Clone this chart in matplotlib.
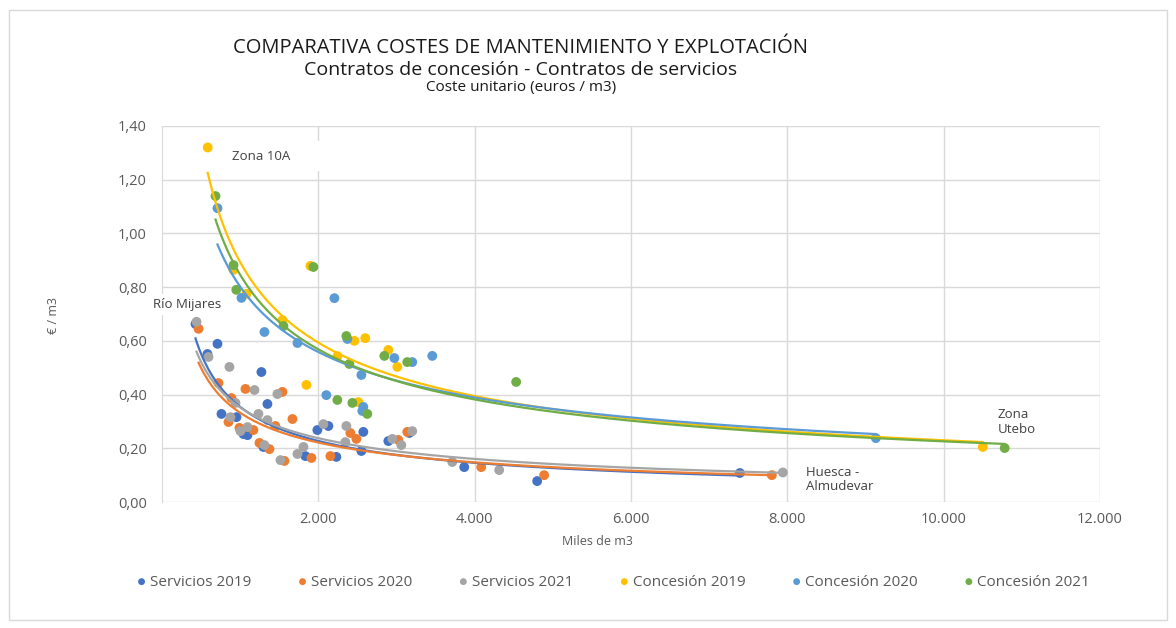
"""Comparativa costes de mantenimiento y explotacion: scatter + power trendlines."""
import matplotlib
matplotlib.use("Agg")
import matplotlib.pyplot as plt
import numpy as np
from matplotlib.patches import Rectangle
from matplotlib.ticker import FuncFormatter

plt.rcParams["font.family"] = ["Open Sans", "DejaVu Sans"]

# --- data (miles de m3, euros / m3) ---
serv19_x = [428, 709, 581, 1271, 1348, 760, 952, 1042, 1093, 1297, 1834, 1987, 2128,
            2230, 2575, 2550, 2895, 3163, 3866, 4799, 7392]
serv19_y = [0.663, 0.589, 0.551, 0.484, 0.365, 0.328, 0.316, 0.253, 0.249, 0.205, 0.171,
            0.268, 0.283, 0.168, 0.261, 0.190, 0.227, 0.257, 0.130, 0.078, 0.108]

serv20_x = [467, 722, 1067, 1540, 888, 850, 1668, 990, 1169, 1450, 1246, 1374, 1566, 1911,
            2154, 2409, 2486, 3023, 3137, 4083, 4888, 7801]
serv20_y = [0.645, 0.443, 0.421, 0.410, 0.387, 0.298, 0.309, 0.276, 0.268, 0.283, 0.220,
            0.197, 0.153, 0.164, 0.171, 0.257, 0.235, 0.231, 0.261, 0.130, 0.100, 0.100]

serv21_x = [441, 594, 862, 1182, 1476, 939, 875, 1233, 1348, 1093, 1003, 1310, 1515, 1732,
            1809, 2064, 2358, 2345, 2946, 3061, 3201, 3713, 4313, 7942]
serv21_y = [0.671, 0.540, 0.503, 0.417, 0.402, 0.369, 0.316, 0.328, 0.305, 0.279, 0.264,
            0.212, 0.156, 0.179, 0.205, 0.290, 0.283, 0.223, 0.235, 0.212, 0.264, 0.149,
            0.119, 0.110]

conc19_x = [584, 913, 1080, 1540, 1898, 2243, 2460, 2600, 2895, 3010, 1847, 2511, 10500]
conc19_y = [1.320, 0.864, 0.775, 0.677, 0.879, 0.543, 0.600, 0.610, 0.566, 0.503, 0.436,
            0.372, 0.205]

conc20_x = [709, 1016, 1310, 1732, 2205, 2371, 2550, 2972, 3201, 3457, 2102, 2575, 2562, 9132]
conc20_y = [1.094, 0.760, 0.633, 0.592, 0.759, 0.607, 0.473, 0.536, 0.521, 0.544, 0.398,
            0.354, 0.339, 0.238]

conc21_x = [684, 914, 950, 1553, 1936, 2358, 2396, 2844, 3137, 2243, 2435, 2626, 4530, 10780]
conc21_y = [1.139, 0.882, 0.790, 0.655, 0.875, 0.618, 0.514, 0.544, 0.521, 0.380, 0.369,
            0.328, 0.447, 0.201]

series = [
    ("Servicios 2019", serv19_x, serv19_y, "#4472C4"),
    ("Servicios 2020", serv20_x, serv20_y, "#ED7D31"),
    ("Servicios 2021", serv21_x, serv21_y, "#A5A5A5"),
    ("Concesión 2019", conc19_x, conc19_y, "#FFC000"),
    ("Concesión 2020", conc20_x, conc20_y, "#5B9BD5"),
    ("Concesión 2021", conc21_x, conc21_y, "#70AD47"),
]

GRID = "#D9D9D9"
TXT = "#595959"

fig = plt.figure(figsize=(11.76, 6.28), dpi=100)
ax = fig.add_axes([0.1378, 0.2006, 0.7976, 0.5988])

handles = []
for name, xs, ys, col in series:
    xs = np.asarray(xs, float)
    ys = np.asarray(ys, float)
    h = ax.scatter(xs, ys, s=50, color=col, edgecolors="none", zorder=3, label=name)
    handles.append(h)
    # power trendline (y = a * x^b), like Excel
    b, lna = np.polyfit(np.log(xs), np.log(ys), 1)
    xf = np.linspace(xs.min(), xs.max(), 300)
    ax.plot(xf, np.exp(lna) * xf ** b, color=col, lw=1.6, zorder=4)

ax.set_xlim(0, 12000)
ax.set_ylim(0, 1.40)
ax.set_xticks(np.arange(2000, 12001, 2000))
ax.set_yticks(np.arange(0, 1.41, 0.2))
ax.xaxis.set_major_formatter(FuncFormatter(lambda v, p: f"{v:,.0f}".replace(",", ".")))
ax.yaxis.set_major_formatter(FuncFormatter(lambda v, p: f"{v:.2f}".replace(".", ",")))
ax.tick_params(length=0, colors=TXT, labelsize=10.5)
ax.tick_params(axis="x", pad=7)
ax.tick_params(axis="y", pad=11)
ax.grid(True, color=GRID, lw=1)
ax.set_axisbelow(True)
for s in ["top", "right", "bottom"]:
    ax.spines[s].set_visible(False)
ax.spines["left"].set_color(GRID)

ax.set_xlabel("Miles de m3", color=TXT, fontsize=9)
ax.xaxis.set_label_coords(0.464, -0.087)
ax.set_ylabel("€ / m3", color=TXT, fontsize=9)
ax.yaxis.set_label_coords(-0.109, 0.495)

# annotations
ax.add_patch(Rectangle((0.075, 0.88), 0.095, 0.08, transform=ax.transAxes,
                       facecolor="white", edgecolor="none", zorder=2))
ax.text(0.0745, 0.918, "Zona 10A", transform=ax.transAxes, fontsize=9.5, color="#404040",
        va="center", ha="left", zorder=5)
ax.text(-0.01, 0.525, "Río Mijares", transform=ax.transAxes, fontsize=9.5, color="#404040",
        va="center", ha="left", zorder=5,
        bbox=dict(facecolor="white", edgecolor="none", pad=3))
ax.text(0.891, 0.213, "Zona\nUtebo", transform=ax.transAxes, fontsize=9.5, color="#404040",
        va="center", ha="left", linespacing=1.15, zorder=5)
ax.text(0.687, 0.06, "Huesca -\nAlmudevar", transform=ax.transAxes, fontsize=9.5,
        color="#404040", va="center", ha="left", linespacing=1.15, zorder=5)

# titles
fig.text(0.443, 0.923, "COMPARATIVA COSTES DE MANTENIMIENTO Y EXPLOTACIÓN",
         ha="center", va="center", fontsize=14.5, color="#1a1a1a")
fig.text(0.443, 0.889, "Contratos de concesión - Contratos de servicios",
         ha="center", va="center", fontsize=14, color="#1a1a1a")
fig.text(0.443, 0.861, "Coste unitario (euros / m3)",
         ha="center", va="center", fontsize=11, color="#1a1a1a")

fig.legend(handles=handles, loc="center", bbox_to_anchor=(0.522, 0.073), ncol=6,
           frameon=False, fontsize=11, handlelength=0.5, handletextpad=0.3,
           columnspacing=3.1, markerscale=0.7, labelcolor=TXT)

# outer chart border
fig.patches.append(Rectangle((0.008, 0.012), 0.984, 0.972, transform=fig.transFigure,
                             facecolor="none", edgecolor=GRID, lw=1))

fig.savefig("out.png", dpi=100)
